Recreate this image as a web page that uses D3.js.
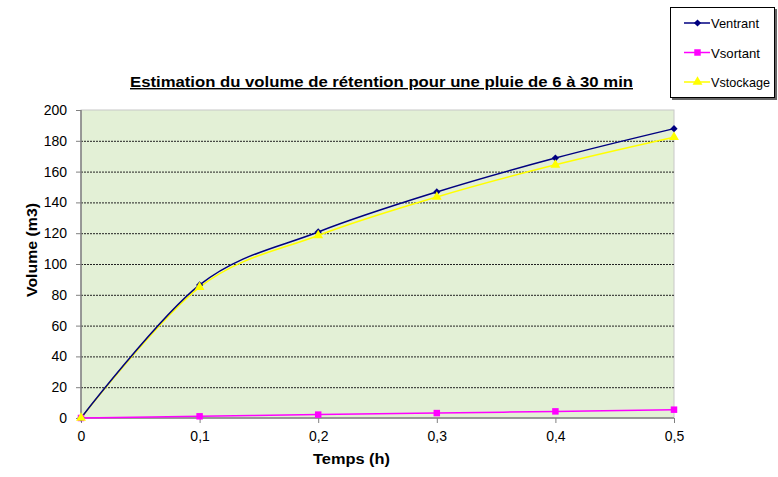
<!DOCTYPE html>
<html>
<head>
<meta charset="utf-8">
<script src="https://cdn.jsdelivr.net/npm/d3@7"></script>
<style>
  body { margin: 0; background: #fff; }
  svg { display: block; font-family: "Liberation Sans", Arial, sans-serif; }
</style>
</head>
<body>
<svg id="chart" width="778" height="477"></svg>
<script>
// Temps (h) et volumes (m3)
const temps = [0, 0.1, 0.2, 0.3, 0.4, 0.5];
const ventrant = [0, 86.4, 120.8, 146.8, 168.8, 187.9];
const vsortant = [0, 1.1, 2.2, 3.2, 4.3, 5.4];
const vstockage = [0, 85.0, 118.5, 143.5, 164.4, 182.3];
const xTicks = [0, 0.1, 0.2, 0.3, 0.4, 0.5];
const yTicks = [0, 20, 40, 60, 80, 100, 120, 140, 160, 180, 200];
const seriesNames = ["Ventrant", "Vsortant", "Vstockage"];

const series = [
  { name: seriesNames[0], values: ventrant, color: "#000080", marker: "diamond", labelWidth: 48 },
  { name: seriesNames[1], values: vsortant, color: "#FF00FF", marker: "square", labelWidth: 49 },
  { name: seriesNames[2], values: vstockage, color: "#FFFF00", marker: "triangle", labelWidth: 59 }
];

const svg = d3.select("#chart");
const plot = { left: 81, right: 674, top: 110, bottom: 418 };

const x = d3.scaleLinear().domain([0, 0.5]).range([plot.left, plot.right]);
const y = d3.scaleLinear().domain([0, 200]).range([plot.bottom, plot.top]);

// Plot area
svg.append("rect")
  .attr("x", plot.left).attr("y", plot.top)
  .attr("width", plot.right - plot.left).attr("height", plot.bottom - plot.top)
  .attr("fill", "#E3F0D6")
  .attr("stroke", "#C8C8C8").attr("stroke-width", 1);

// Horizontal gridlines
svg.append("g").selectAll("line")
  .data(yTicks.filter(d => d > 0 && d < 200))
  .join("line")
  .attr("x1", plot.left).attr("x2", plot.right)
  .attr("y1", d => y(d) + 0.5).attr("y2", d => y(d) + 0.5)
  .attr("stroke", "#222").attr("stroke-width", 1)
  .attr("stroke-dasharray", "2,1");

// Axes
const fmtX = d => d === 0 ? "0" : d3.format(".1f")(d).replace(".", ",");
const xAxis = d3.axisBottom(x).tickValues(xTicks).tickSize(5).tickPadding(8).tickFormat(fmtX);
const yAxis = d3.axisLeft(y).tickValues(yTicks).tickSize(5).tickPadding(9);

const gx = svg.append("g").attr("transform", `translate(0,${plot.bottom})`).call(xAxis);
const gy = svg.append("g").attr("transform", `translate(${plot.left},0)`).call(yAxis);
[gx, gy].forEach(g => {
  g.select(".domain").remove();
  g.selectAll(".tick line").attr("stroke", "#808080");
  g.selectAll("text").attr("font-size", 14).attr("fill", "#000")
    .attr("font-family", "'Liberation Sans', Arial, sans-serif");
});
svg.append("line").attr("x1", plot.left).attr("x2", plot.left)
  .attr("y1", plot.top).attr("y2", plot.bottom)
  .attr("stroke", "#808080").attr("stroke-width", 1.5);
svg.append("line").attr("x1", plot.left).attr("x2", plot.right)
  .attr("y1", plot.bottom).attr("y2", plot.bottom)
  .attr("stroke", "#808080").attr("stroke-width", 1.5);

// Smoothed lines
const line = d3.line()
  .x((d, i) => x(temps[i]))
  .y(d => y(d))
  .curve(d3.curveCatmullRom.alpha(0));

// Markers: diamond is a square turned 45 degrees
const symbolFor = m => m === "square" ? d3.symbolSquare : m === "triangle" ? d3.symbolTriangle : d3.symbolSquare;
const symbolSize = m => m === "diamond" ? 26 : m === "square" ? 42 : 42;
const symbolRot = m => m === "diamond" ? " rotate(45)" : "";

[series[1], series[2], series[0]].forEach(s => {
  svg.append("path")
    .attr("d", line(s.values))
    .attr("fill", "none")
    .attr("stroke", s.color)
    .attr("stroke-width", 1.5);
});
[series[1], series[0], series[2]].forEach(s => {
  svg.append("g").selectAll("path")
    .data(s.values)
    .join("path")
    .attr("transform", (d, i) => `translate(${x(temps[i])},${y(d)})${symbolRot(s.marker)}`)
    .attr("d", d3.symbol().type(symbolFor(s.marker)).size(symbolSize(s.marker)))
    .attr("fill", s.color);
});

// Title
svg.append("text")
  .attr("x", 130).attr("y", 87)
  .attr("font-size", 14).attr("font-weight", "bold")
  .attr("text-decoration", "underline")
  .attr("textLength", 503).attr("lengthAdjust", "spacingAndGlyphs")
  .text("Estimation du volume de rétention pour une pluie de 6 à 30 min");

// Axis titles
svg.append("text")
  .attr("x", 313).attr("y", 464)
  .attr("font-size", 14).attr("font-weight", "bold")
  .attr("textLength", 77).attr("lengthAdjust", "spacingAndGlyphs")
  .text("Temps (h)");
svg.append("text")
  .attr("transform", "translate(37,297) rotate(-90)")
  .attr("font-size", 14).attr("font-weight", "bold")
  .attr("textLength", 94).attr("lengthAdjust", "spacingAndGlyphs")
  .text("Volume (m3)");

// Legend
const lg = svg.append("g");
lg.append("rect").attr("x", 672).attr("y", 9).attr("width", 105).attr("height", 91)
  .attr("fill", "#666");
lg.append("rect").attr("x", 670.5).attr("y", 7.5).attr("width", 104).attr("height", 90)
  .attr("fill", "#fff").attr("stroke", "#000").attr("stroke-width", 1);
series.forEach((s, i) => {
  const ly = 23 + i * 29.5;
  lg.append("line").attr("x1", 684).attr("x2", 710).attr("y1", ly).attr("y2", ly)
    .attr("stroke", s.color).attr("stroke-width", 1.5);
  lg.append("path")
    .attr("transform", `translate(697.5,${ly})${symbolRot(s.marker)}`)
    .attr("d", d3.symbol().type(symbolFor(s.marker)).size(symbolSize(s.marker)))
    .attr("fill", s.color);
  lg.append("text").attr("x", 711).attr("y", ly + 5)
    .attr("font-size", 13.5)
    .attr("textLength", s.labelWidth).attr("lengthAdjust", "spacingAndGlyphs")
    .text(s.name);
});
</script>
</body>
</html>
